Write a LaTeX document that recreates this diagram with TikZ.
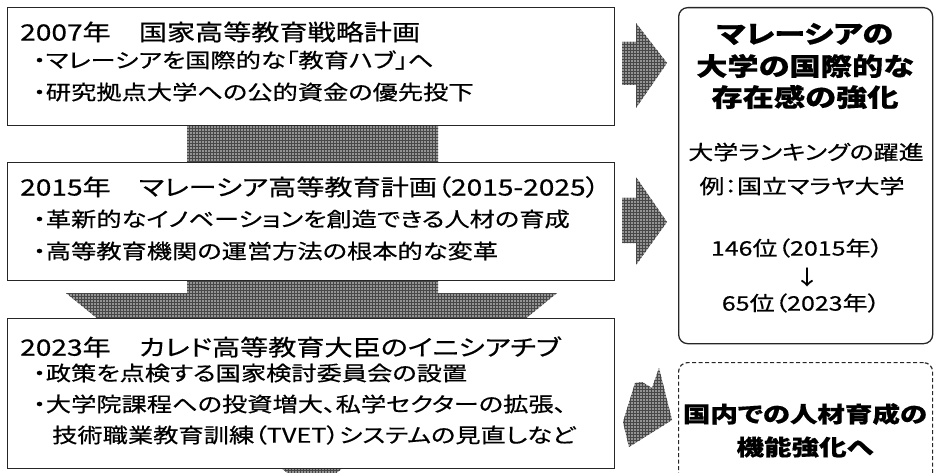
\documentclass[tikz,border=0pt]{standalone}
\usepackage{fontspec}
\usetikzlibrary{patterns}
\setmainfont{Noto Sans CJK JP}[FakeStretch=1.25,RawFeature=+palt,FakeBold=0.5]
\tikzset{
 leftbox/.style={draw=black!85, line width=1.3pt, fill=white, inner sep=0pt, anchor=north west},
 roundbox/.style={draw=black!85, line width=1.3pt, rounded corners=9pt, fill=white, inner sep=0pt, anchor=north west},
 dashbox/.style={draw=black!85, line width=1.2pt, dash pattern=on 4pt off 2.5pt, rounded corners=9pt, inner sep=0pt, anchor=north west},
 bigarrow/.style={fill=black!42, draw=none, postaction={pattern=grid, pattern color=black!72}},
 ttl/.style={anchor=west, inner sep=0pt, font=\fontsize{22.5}{24}\selectfont},
 bul/.style={anchor=west, inner sep=0pt, font=\fontsize{20.2}{22}\selectfont},
 rt/.style={anchor=center, inner sep=0pt, font=\bfseries\fontsize{25}{27}\selectfont},
 rd/.style={anchor=center, inner sep=0pt, font=\bfseries\fontsize{22}{24}\selectfont},
 rs/.style={anchor=center, inner sep=0pt, font=\fontsize{20}{22}\selectfont},
}
\begin{document}
\begin{tikzpicture}[x=1pt,y=-1pt]
\useasboundingbox (0,0) rectangle (939,473);
% big down arrow (behind the boxes)
\path[bigarrow] (187,110) -- (438,110) -- (438,293) -- (557,293) -- (312,493) -- (66,293) -- (187,293) -- cycle;
% left boxes
\node[leftbox, minimum width=607pt, minimum height=118pt] (b1) at (7,7) {};
\node[leftbox, minimum width=607pt, minimum height=118pt] (b2) at (7,162) {};
\node[leftbox, minimum width=607pt, minimum height=150pt] (b3) at (7,318) {};
% right boxes
\node[roundbox, minimum width=254pt, minimum height=336pt] (r1) at (678,7) {};
\node[dashbox, minimum width=254pt, minimum height=140pt] (r2) at (678,362) {};
% right arrows
\path[bigarrow] (622,42) -- (636,42) -- (636,23) -- (667,63) -- (636,108) -- (636,85) -- (622,85) -- cycle;
\path[bigarrow] (622,198) -- (636,198) -- (636,177) -- (667,222) -- (636,265) -- (636,243) -- (622,243) -- cycle;
\path[bigarrow] (659,368) -- (672,420) -- (629,447) -- (623,422) -- (635,383) -- (642,382) -- (652,388) -- cycle;
% box 1 text
\node[ttl] (t1) at (20,32) {2007年　国家高等教育戦略計画};
\node[bul] (t1a) at (33,60) {・マレーシアを国際的な「教育ハブ」へ};
\node[bul] (t1b) at (33,92) {・研究拠点大学への公的資金の優先投下};
% box 2 text
\node[ttl] (t2) at (20,187) {2015年　マレーシア高等教育計画（2015-2025）};
\node[bul] (t2a) at (33,219) {・革新的なイノベーションを創造できる人材の育成};
\node[bul] (t2b) at (33,251) {・高等教育機関の運営方法の根本的な変革};
% box 3 text
\node[ttl] (t3) at (20,347) {2023年　カレド高等教育大臣のイニシアチブ};
\node[bul] (t3a) at (33,373) {・政策を点検する国家検討委員会の設置};
\node[bul] (t3b) at (33,404) {・大学院課程への投資増大、私学セクターの拡張、};
\node[bul] (t3c) at (52,435) {技術職業教育訓練（TVET）システムの見直しなど};
% right box text
\node[rt] (u1) at (805,34) {マレーシアの};
\node[rt] (u2) at (805,66) {大学の国際的な};
\node[rt] (u3) at (805,97) {存在感の強化};
\node[rs] (u4) at (806,152) {大学ランキングの躍進};
\node[rs] (u5) at (802,186) {例：国立マラヤ大学};
\node[rs] (u6) at (797,248) {146位（2015年）};
\node[rs] (u7) at (807,277) {↓};
\node[rs] (u8) at (801,303) {65位（2023年）};
\node[rd] (v1) at (805,414) {国内での人材育成の};
\node[rd] (v2) at (805,447) {機能強化へ};
\end{tikzpicture}
\end{document}
